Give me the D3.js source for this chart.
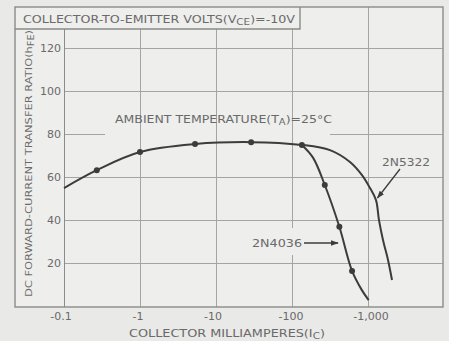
<!DOCTYPE html>
<html>
<head>
<meta charset="utf-8">
<script src="https://cdn.jsdelivr.net/npm/d3@7/dist/d3.min.js"></script>
<style>
  html, body { margin: 0; padding: 0; background: #e9e9e7; }
  svg { display: block; }
  text { font-family: "DejaVu Sans", sans-serif; fill: #6a6a6a; }
</style>
</head>
<body>
<svg id="chart" width="449" height="341"></svg>
<script>
// hFE vs collector current, VCE = -10 V, TA = 25 °C
const xTickValues = [0.1, 1, 10, 100, 1000];
const xTickLabels = ["-0.1", "-1", "-10", "-100", "-1,000"];
const yTickValues = [20, 40, 60, 80, 100, 120];
const yTickLabels = ["20", "40", "60", "80", "100", "120"];

// 2N5322 curve (shared with 2N4036 up to ~135 mA)
const ic2N5322 = [0.1, 0.27, 1, 5.3, 29, 135, 316, 579, 834, 1062, 1274, 1395, 1575, 1833, 2070];
const hfe2N5322 = [55, 63.3, 71.7, 75.4, 76.3, 75, 72.6, 67.1, 61, 55, 49.4, 40.1, 30.9, 21.6, 12.3];

// 2N4036 branch
const ic2N4036 = [135, 189, 270, 420, 617, 830, 1020];
const hfe2N4036 = [75, 69.1, 56.4, 37, 16.5, 7.6, 3];

// plotted test points
const markIc = [0.27, 1, 5.3, 29, 135, 270, 420, 617];
const markHfe = [63.3, 71.7, 75.4, 76.3, 75, 56.4, 37, 16.5];

const svg = d3.select("#chart");

const frame = { left: 15, top: 7, right: 443, bottom: 307 };
const header = { right: 300, bottom: 29 };

const x = d3.scaleLog().domain([0.1, 1000]).range([64, 368]);
const y = d3.scaleLinear().domain([0, 120]).range([306.5, 48]);

// plot background
svg.append("rect")
  .attr("x", frame.left).attr("y", frame.top)
  .attr("width", frame.right - frame.left).attr("height", frame.bottom - frame.top)
  .attr("fill", "#eeeeec");

const grid = svg.append("g").attr("stroke", "#a4a4a2").attr("stroke-width", 1).attr("fill", "none");

// horizontal grid lines (with breaks where the drawing leaves room)
const hBreaks = { 80: [105, 330] };
yTickValues.forEach(v => {
  const yy = Math.round(y(v)) + 0.5;
  const br = hBreaks[v];
  if (br) {
    grid.append("line").attr("x1", x(0.1)).attr("x2", br[0]).attr("y1", yy).attr("y2", yy);
    grid.append("line").attr("x1", br[1]).attr("x2", frame.right).attr("y1", yy).attr("y2", yy);
  } else {
    grid.append("line").attr("x1", x(0.1)).attr("x2", frame.right).attr("y1", yy).attr("y2", yy);
  }
});

// vertical grid lines
xTickValues.forEach(v => {
  const xx = Math.round(x(v)) + 0.5;
  const top = xx < header.right ? header.bottom : frame.top;
  if (v === 100) {
    grid.append("line").attr("x1", xx).attr("x2", xx).attr("y1", top).attr("y2", 228);
    grid.append("line").attr("x1", xx).attr("x2", xx).attr("y1", 255).attr("y2", frame.bottom);
  } else {
    grid.append("line").attr("x1", xx).attr("x2", xx).attr("y1", top).attr("y2", frame.bottom)
      .attr("stroke", v === 0.1 ? "#8c8c8a" : null);
  }
});

// outer frame and header box
const box = svg.append("g").attr("stroke", "#8a8a88").attr("stroke-width", 1.4).attr("fill", "none");
box.append("rect")
  .attr("x", frame.left).attr("y", frame.top)
  .attr("width", frame.right - frame.left).attr("height", frame.bottom - frame.top);
box.append("polyline")
  .attr("points", `${frame.left},${header.bottom} ${header.right},${header.bottom} ${header.right},${frame.top}`);

// header text
const ht = svg.append("text")
  .attr("x", 23).attr("y", 23)
  .attr("font-size", 11)
  .attr("textLength", 272).attr("lengthAdjust", "spacingAndGlyphs");
ht.append("tspan").text("COLLECTOR-TO-EMITTER VOLTS(V");
ht.append("tspan").attr("font-size", 9).attr("dy", 2).text("CE");
ht.append("tspan").attr("dy", -2).text(")=-10V");

// curves
const line = d3.line()
  .x(d => x(d[0]))
  .y(d => y(d[1]))
  .curve(d3.curveCatmullRom.alpha(0.5));

const plot = svg.append("g");
plot.append("path")
  .datum(ic2N5322.map((v, i) => [v, hfe2N5322[i]]))
  .attr("d", line)
  .attr("fill", "none").attr("stroke", "#3c3c3c").attr("stroke-width", 2);
plot.append("path")
  .datum(ic2N4036.map((v, i) => [v, hfe2N4036[i]]))
  .attr("d", line)
  .attr("fill", "none").attr("stroke", "#3c3c3c").attr("stroke-width", 2);

plot.selectAll("circle.pt")
  .data(markIc.map((v, i) => [v, markHfe[i]]))
  .join("circle")
  .attr("class", "pt")
  .attr("cx", d => x(d[0])).attr("cy", d => y(d[1]))
  .attr("r", 3).attr("fill", "#3c3c3c");

// tick labels
svg.append("g").selectAll("text")
  .data(yTickValues)
  .join("text")
  .attr("x", 61).attr("y", d => y(d) + 4)
  .attr("text-anchor", "end").attr("font-size", 11)
  .text((d, i) => yTickLabels[i]);

const xOffsets = [-3, -2, -3, -1, 3];
svg.append("g").selectAll("text")
  .data(xTickValues)
  .join("text")
  .attr("x", (d, i) => x(d) + xOffsets[i]).attr("y", 320)
  .attr("text-anchor", "middle").attr("font-size", 11)
  .text((d, i) => xTickLabels[i]);

// axis titles
const xt = svg.append("text")
  .attr("x", 129).attr("y", 337)
  .attr("font-size", 11)
  .attr("textLength", 196).attr("lengthAdjust", "spacingAndGlyphs");
xt.append("tspan").text("COLLECTOR MILLIAMPERES(I");
xt.append("tspan").attr("font-size", 9).attr("dy", 2).text("C");
xt.append("tspan").attr("dy", -2).text(")");

const yt = svg.append("text")
  .attr("transform", "translate(32,297) rotate(-90)")
  .attr("font-size", 9.5)
  .attr("textLength", 267).attr("lengthAdjust", "spacingAndGlyphs");
yt.append("tspan").text("DC FORWARD-CURRENT TRANSFER RATIO(h");
yt.append("tspan").attr("font-size", 8).attr("dy", 2).text("FE");
yt.append("tspan").attr("dy", -2).text(")");

// condition annotation
const at = svg.append("text")
  .attr("x", 115).attr("y", 123)
  .attr("font-size", 10)
  .attr("textLength", 217).attr("lengthAdjust", "spacingAndGlyphs");
at.append("tspan").text("AMBIENT TEMPERATURE(T");
at.append("tspan").attr("font-size", 8).attr("dy", 2).text("A");
at.append("tspan").attr("dy", -2).text(")=25°C");

// device labels with leader arrows
svg.append("defs").append("marker")
  .attr("id", "arrow").attr("viewBox", "0 0 10 10")
  .attr("refX", 9).attr("refY", 5)
  .attr("markerWidth", 6).attr("markerHeight", 6)
  .attr("orient", "auto")
  .append("path").attr("d", "M0,1.5 L10,5 L0,8.5 Z").attr("fill", "#3c3c3c");

svg.append("text")
  .attr("x", 382).attr("y", 166).attr("font-size", 11)
  .attr("textLength", 48).attr("lengthAdjust", "spacingAndGlyphs")
  .text("2N5322");
svg.append("line")
  .attr("x1", 400).attr("y1", 169).attr("x2", 377.5).attr("y2", 198)
  .attr("stroke", "#3c3c3c").attr("stroke-width", 1.3).attr("marker-end", "url(#arrow)");

svg.append("text")
  .attr("x", 252).attr("y", 247).attr("font-size", 11)
  .attr("textLength", 50).attr("lengthAdjust", "spacingAndGlyphs")
  .text("2N4036");
svg.append("line")
  .attr("x1", 304).attr("y1", 243).attr("x2", 338).attr("y2", 243)
  .attr("stroke", "#3c3c3c").attr("stroke-width", 1.3).attr("marker-end", "url(#arrow)");
</script>
</body>
</html>
